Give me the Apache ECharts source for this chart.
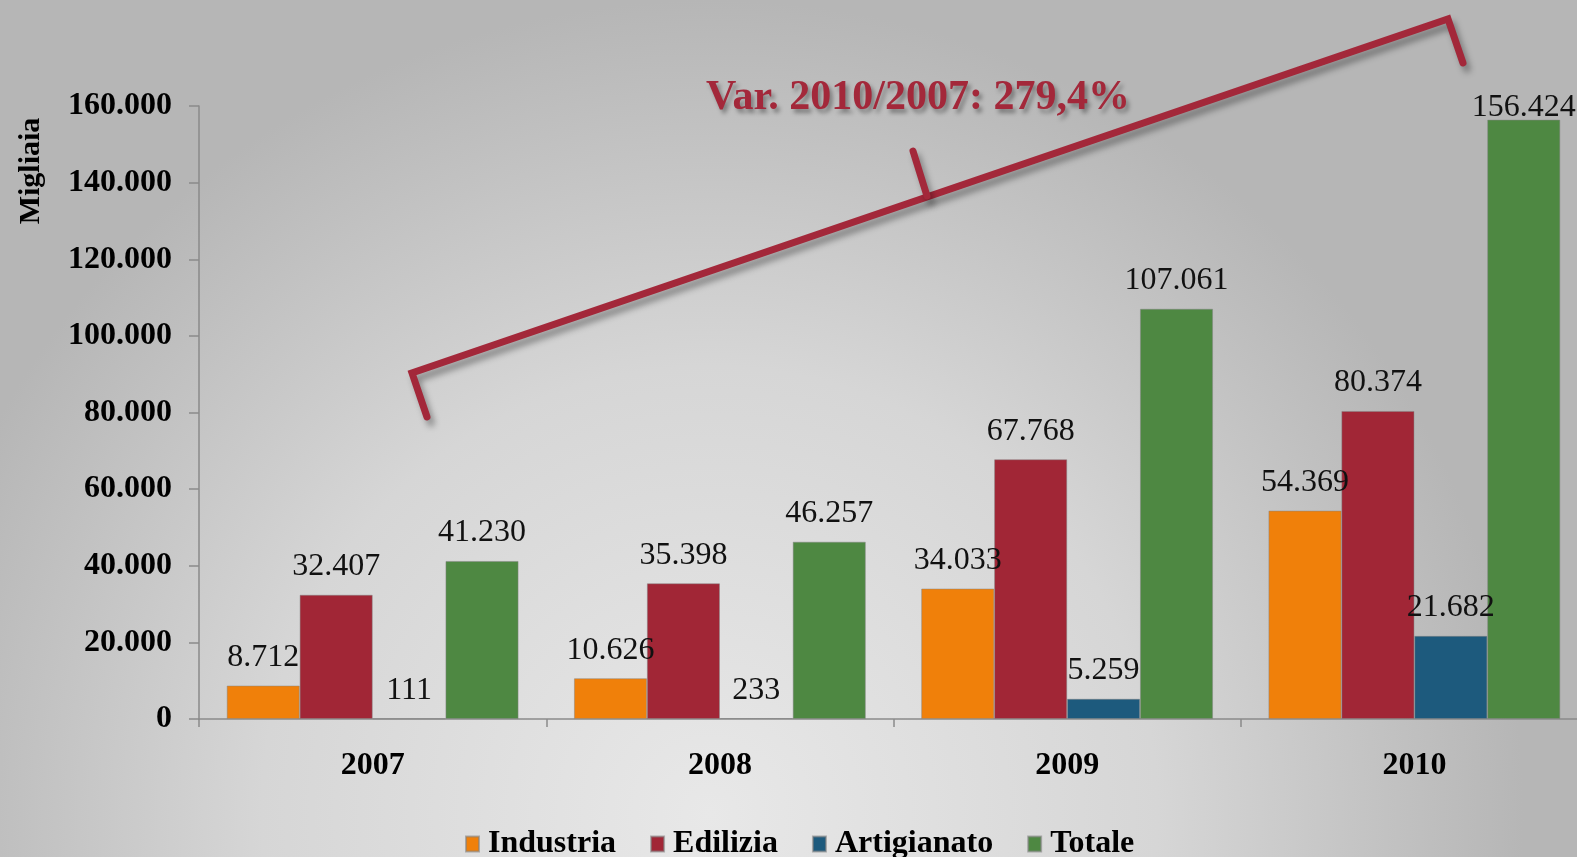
<!DOCTYPE html>
<html>
<head>
<meta charset="utf-8">
<script src="https://cdn.jsdelivr.net/npm/echarts@6/dist/echarts.min.js"></script>
<style>
html,body{margin:0;padding:0;width:1577px;height:857px;overflow:hidden;}
#c{width:1577px;height:857px;}
</style>
</head>
<body>
<div id="c"></div>
<script>
var categories = ['2007', '2008', '2009', '2010'];
var industria = [8712, 10626, 34033, 54369];
var edilizia = [32407, 35398, 67768, 80374];
var artigianato = [111, 233, 5259, 21682];
var totale = [41230, 46257, 107061, 156424];
var seriesNames = ['Industria', 'Edilizia', 'Artigianato', 'Totale'];
var seriesColors = ['#F0800A', '#A12636', '#1D5A7D', '#4E8842'];
var yMin = 0, yMax = 160000, yInterval = 20000;
var annotationText = 'Var. 2010/2007: 279,4%';
var axisName = 'Migliaia';

var FONT = '"Liberation Serif", "Times New Roman", serif';
function fmt(v) {
  return String(Math.round(v)).replace(/\B(?=(\d{3})+(?!\d))/g, '.');
}
var chart = echarts.init(document.getElementById('c'), null, {renderer: 'canvas'});
var allData = [industria, edilizia, artigianato, totale];
var series = seriesNames.map(function (n, i) {
  return {
    name: n,
    type: 'bar',
    data: allData[i].map(function (v) {
      // labels that would rise above the plot top are pulled down, as in the original
      return v > yMax * 0.95 ? {value: v, label: {distance: -4}} : v;
    }),
    barGap: '0%',
    barCategoryGap: '16%',
    itemStyle: {color: seriesColors[i], borderColor: 'rgba(130,130,130,0.6)', borderWidth: 0.8},
    label: {
      show: true,
      position: 'top',
      distance: 12,
      formatter: function (p) { return fmt(p.value); },
      fontFamily: FONT,
      fontSize: 32,
      color: '#111'
    }
  };
});
var bracketColor = '#A3283A';
var shadow = {shadowColor: 'rgba(0,0,0,0.35)', shadowBlur: 6, shadowOffsetX: 4, shadowOffsetY: 6};
chart.setOption({
  backgroundColor: {
    type: 'radial', x: 0.45, y: 0.95, r: 0.95,
    colorStops: [{offset: 0, color: '#e8e8e8'}, {offset: 0.55, color: '#d6d6d6'}, {offset: 1, color: '#b6b6b6'}]
  },
  animation: false,
  grid: {left: 199, right: -11, top: 106, bottom: 138, containLabel: false, outerBoundsMode: 'none'},
  legend: {
    data: seriesNames,
    left: 460,
    top: 823,
    itemWidth: 13,
    itemHeight: 15,
    itemGap: 34,
    icon: 'rect',
    textStyle: {fontFamily: FONT, fontSize: 32, fontWeight: 'bold', color: '#000', padding: [0, 0, 0, 4]}
  },
  xAxis: {
    type: 'category',
    data: categories,
    axisLine: {lineStyle: {color: '#8a8a8a', width: 1.5}},
    axisTick: {show: true, length: 8, lineStyle: {color: '#8a8a8a', width: 1.5}},
    axisLabel: {fontFamily: FONT, fontSize: 32, fontWeight: 'bold', color: '#000', margin: 31}
  },
  yAxis: {
    type: 'value',
    min: yMin, max: yMax, interval: yInterval,
    axisLine: {show: true, lineStyle: {color: '#8a8a8a', width: 1.5}},
    axisTick: {show: true, length: 10, lineStyle: {color: '#8a8a8a', width: 1.5}},
    splitLine: {show: false},
    axisLabel: {fontFamily: FONT, fontSize: 32, fontWeight: 'bold', color: '#000', margin: 27,
      formatter: function (v) { return fmt(v); }}
  },
  graphic: [
    {
      type: 'text',
      x: 31, y: 171,
      rotation: Math.PI / 2,
      style: {
        text: axisName, fontFamily: FONT, fontSize: 30, fontWeight: 'bold', fill: '#000',
        align: 'center', verticalAlign: 'middle'
      }
    },
    {
      type: 'polyline',
      shape: {points: [[427, 417], [412, 373], [1448, 19], [1463, 63]]},
      style: Object.assign({stroke: bracketColor, lineWidth: 7, fill: null, lineJoin: 'miter', lineCap: 'round'}, shadow),
      z: 100
    },
    {
      type: 'line',
      shape: {x1: 913, y1: 151, x2: 927, y2: 196},
      style: Object.assign({stroke: bracketColor, lineWidth: 7, lineCap: 'round'}, shadow),
      z: 100
    },
    {
      type: 'text',
      x: 918, y: 98,
      style: {
        text: annotationText,
        fontFamily: FONT, fontSize: 42, fontWeight: 'bold',
        fill: bracketColor, align: 'center', verticalAlign: 'middle',
        textShadowColor: 'rgba(0,0,0,0.35)', textShadowBlur: 4, textShadowOffsetX: 3, textShadowOffsetY: 4
      },
      z: 100
    }
  ],
  series: series
});
</script>
</body>
</html>
